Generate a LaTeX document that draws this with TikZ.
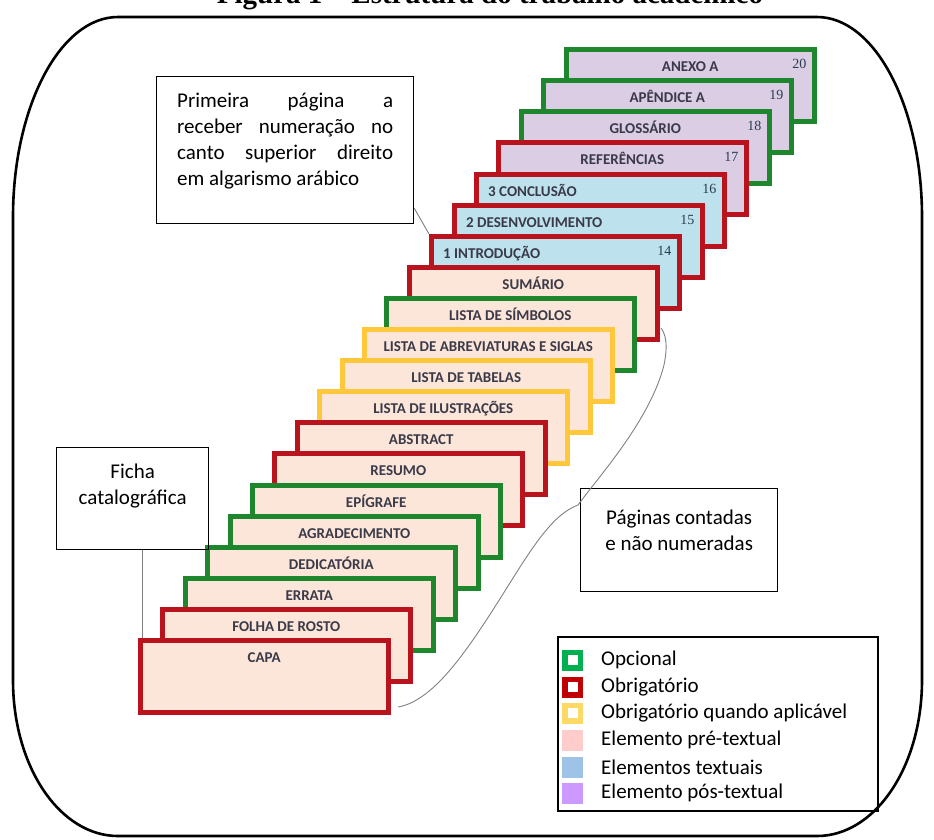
\documentclass[tikz,border=0pt]{standalone}
\usepackage{fontspec}
\setmainfont{Carlito}
\newfontfamily\numfont{Liberation Serif}
\usepackage{tikz}
\usetikzlibrary{positioning}
\definecolor{opcgreen}{RGB}{30,135,45}
\definecolor{obrred}{RGB}{185,20,30}
\definecolor{aplyellow}{RGB}{255,200,60}
\definecolor{prefill}{RGB}{252,230,218}
\definecolor{txtfill}{RGB}{190,225,238}
\definecolor{posfill}{RGB}{218,205,228}
\definecolor{labelgray}{RGB}{58,58,72}
\definecolor{numblue}{RGB}{40,60,80}
\definecolor{leggreen}{RGB}{0,176,80}
\definecolor{legred}{RGB}{192,0,0}
\definecolor{legyellow}{RGB}{255,217,102}
\definecolor{legpink}{RGB}{255,204,204}
\definecolor{legblue}{RGB}{157,195,230}
\definecolor{legpurple}{RGB}{204,153,255}

\begin{document}
\begin{tikzpicture}[x=1pt,y=-1pt,
		pagebox/.style={rectangle,anchor=north west,minimum width=248pt,minimum height=72pt,line width=4.5pt,inner sep=0pt},
		pagetext/.style={anchor=base,font=\fontsize{15}{15}\selectfont\bfseries,text=labelgray,inner sep=0pt},
		pagenum/.style={anchor=base east,font=\numfont\fontsize{14}{15}\selectfont,text=numblue,inner sep=0pt},
		callbox/.style={rectangle,draw,line width=1.3pt,anchor=north west,inner sep=0pt},
		calltext/.style={font=\fontsize{21}{26}\selectfont,inner sep=0pt,align=center},
		callline/.style={draw=black!50,line width=0.9pt},
		legsquare/.style={rectangle,minimum size=15.5pt,line width=5.5pt,fill=white,inner sep=0pt},
		legfill/.style={rectangle,minimum size=21pt,inner sep=0pt},
		legtext/.style={font=\fontsize{21}{26}\selectfont,anchor=west,inner sep=0pt}]
		\useasboundingbox (0,0) rectangle (934,839);
		
		% moldura
		\draw[line width=2.6pt] (118,17) -- (817,17) .. controls (875,17) and (922,107) .. (922,217)
			-- (922,680) .. controls (922,767) and (875,836) .. (817,836)
			-- (118,836) .. controls (60,836) and (13,767) .. (13,680)
			-- (13,217) .. controls (13,107) and (60,17) .. cycle;
		\node[anchor=base,font=\numfont\fontsize{29}{30}\selectfont\bfseries,inner sep=0pt] (title) at (490,3) {Figura 1 – Estrutura do trabalho acadêmico};
		
		% elementos pos-textuais
		\node[pagebox,draw=opcgreen,fill=posfill] (anexo) at (564,47) {};
		\node[pagetext] (anexo-t) at ([yshift=-24pt]anexo.north) {ANEXO A};
		\node[pagenum] (anexo-n) at ([xshift=-10pt,yshift=-21pt]anexo.north east) {20};
		\node[pagebox,draw=opcgreen,fill=posfill] (apend) at (541,78) {};
		\node[pagetext] (apend-t) at ([yshift=-24pt]apend.north) {APÊNDICE A};
		\node[pagenum] (apend-n) at ([xshift=-10pt,yshift=-21pt]apend.north east) {19};
		\node[pagebox,draw=opcgreen,fill=posfill] (gloss) at (519,109) {};
		\node[pagetext] (gloss-t) at ([yshift=-24pt]gloss.north) {GLOSSÁRIO};
		\node[pagenum] (gloss-n) at ([xshift=-10pt,yshift=-21pt]gloss.north east) {18};
		\node[pagebox,draw=obrred,fill=posfill] (refs) at (496,140) {};
		\node[pagetext] (refs-t) at ([yshift=-24pt]refs.north) {REFERÊNCIAS};
		\node[pagenum] (refs-n) at ([xshift=-10pt,yshift=-21pt]refs.north east) {17};
		
		% elementos textuais
		\node[pagebox,draw=obrred,fill=txtfill] (concl) at (474,172) {};
		\node[pagetext,anchor=base west] (concl-t) at ([xshift=14pt,yshift=-24pt]concl.north west) {3 CONCLUSÃO};
		\node[pagenum] (concl-n) at ([xshift=-10pt,yshift=-21pt]concl.north east) {16};
		\node[pagebox,draw=obrred,fill=txtfill] (desenv) at (452,203) {};
		\node[pagetext,anchor=base west] (desenv-t) at ([xshift=14pt,yshift=-24pt]desenv.north west) {2 DESENVOLVIMENTO};
		\node[pagenum] (desenv-n) at ([xshift=-10pt,yshift=-21pt]desenv.north east) {15};
		\node[pagebox,draw=obrred,fill=txtfill] (intro) at (429,234) {};
		\node[pagetext,anchor=base west] (intro-t) at ([xshift=14pt,yshift=-24pt]intro.north west) {1 INTRODUÇÃO};
		\node[pagenum] (intro-n) at ([xshift=-10pt,yshift=-21pt]intro.north east) {14};
		
		% elementos pre-textuais
		\node[pagebox,draw=obrred,fill=prefill] (sumario) at (407,265) {};
		\node[pagetext] (sumario-t) at ([yshift=-24pt]sumario.north) {SUMÁRIO};
		\node[pagebox,draw=opcgreen,fill=prefill] (simb) at (384,296) {};
		\node[pagetext] (simb-t) at ([yshift=-24pt]simb.north) {LISTA DE SÍMBOLOS};
		\node[pagebox,draw=aplyellow,fill=prefill] (abrev) at (362,327) {};
		\node[pagetext] (abrev-t) at ([yshift=-24pt]abrev.north) {LISTA DE ABREVIATURAS E SIGLAS};
		\node[pagebox,draw=aplyellow,fill=prefill] (tabelas) at (340,358) {};
		\node[pagetext] (tabelas-t) at ([yshift=-24pt]tabelas.north) {LISTA DE TABELAS};
		\node[pagebox,draw=aplyellow,fill=prefill] (ilust) at (317,389) {};
		\node[pagetext] (ilust-t) at ([yshift=-24pt]ilust.north) {LISTA DE ILUSTRAÇÕES};
		\node[pagebox,draw=obrred,fill=prefill] (abstract) at (295,420) {};
		\node[pagetext] (abstract-t) at ([yshift=-24pt]abstract.north) {ABSTRACT};
		\node[pagebox,draw=obrred,fill=prefill] (resumo) at (272,451) {};
		\node[pagetext] (resumo-t) at ([yshift=-24pt]resumo.north) {RESUMO};
		\node[pagebox,draw=opcgreen,fill=prefill] (epig) at (250,483) {};
		\node[pagetext] (epig-t) at ([yshift=-24pt]epig.north) {EPÍGRAFE};
		\node[pagebox,draw=opcgreen,fill=prefill] (agrad) at (228,514) {};
		\node[pagetext] (agrad-t) at ([yshift=-24pt]agrad.north) {AGRADECIMENTO};
		\node[pagebox,draw=opcgreen,fill=prefill] (dedic) at (205,545) {};
		\node[pagetext] (dedic-t) at ([yshift=-24pt]dedic.north) {DEDICATÓRIA};
		\node[pagebox,draw=opcgreen,fill=prefill] (errata) at (183,576) {};
		\node[pagetext] (errata-t) at ([yshift=-24pt]errata.north) {ERRATA};
		\node[pagebox,draw=obrred,fill=prefill] (rosto) at (160,607) {};
		\node[pagetext] (rosto-t) at ([yshift=-24pt]rosto.north) {FOLHA DE ROSTO};
		\node[pagebox,draw=obrred,fill=prefill] (capa) at (138,638) {};
		\node[pagetext] (capa-t) at ([yshift=-24pt]capa.north) {CAPA};
		
		% chamadas
		\node[callbox,minimum width=257pt,minimum height=147pt] (prim) at (156,76) {};
		\node[calltext,text width=216pt,align=justify] (prim-t) at ([yshift=9pt]prim.center)
			{Primeira página a\linebreak receber numeração no\linebreak canto superior direito\linebreak em algarismo arábico};
		\draw[callline] ([yshift=16pt]prim.south east) -- (intro.north west);
		
		\node[callbox,minimum width=152pt,minimum height=102pt] (ficha) at (56,447) {};
		\node[calltext] (ficha-t) at ([yshift=13pt]ficha.center) {Ficha\\catalográfica};
		\draw[callline] ([xshift=10pt]ficha.south) -- ([xshift=10pt]ficha.south |- capa.north);
		
		\node[callbox,minimum width=197pt,minimum height=103pt] (pag) at (580,488) {};
		\node[calltext] (pag-t) at ([yshift=10pt]pag.center) {Páginas contadas\\e não numeradas};
		\coordinate (br-a) at (398,707);
		\coordinate (br-t) at (578,505);
		\coordinate (br-b) at (661,328);
		\draw[callline] (br-a) .. controls (440,700) and (480,630) .. (520,567)
			.. controls (545,528) and (560,512) .. (br-t)
			.. controls (600,475) and (650,420) .. (664,365)
			.. controls (668,345) and (666,335) .. (br-b);
		
		% legenda
		\node[callbox,minimum width=320pt,minimum height=174pt,line width=1.5pt] (legend) at (557,636) {};
		\node[legsquare,draw=leggreen] (leg-opc) at (572.5,660) {};
		\node[legtext] (leg-opc-t) at (601,660) {Opcional};
		\node[legsquare,draw=legred] (leg-obr) at (572.5,687) {};
		\node[legtext] (leg-obr-t) at (601,687) {Obrigatório};
		\node[legsquare,draw=legyellow] (leg-apl) at (572.5,713) {};
		\node[legtext] (leg-apl-t) at (601,713) {Obrigatório quando aplicável};
		\node[legfill,fill=legpink] (leg-pre) at (572.5,740) {};
		\node[legtext] (leg-pre-t) at (601,740) {Elemento pré-textual};
		\node[legfill,fill=legblue] (leg-txt) at (572.5,767) {};
		\node[legtext] (leg-txt-t) at (601,767) {Elementos textuais};
		\node[legfill,fill=legpurple] (leg-pos) at (572.5,793) {};
		\node[legtext] (leg-pos-t) at (601,793) {Elemento pós-textual};
	\end{tikzpicture}
\end{document}
